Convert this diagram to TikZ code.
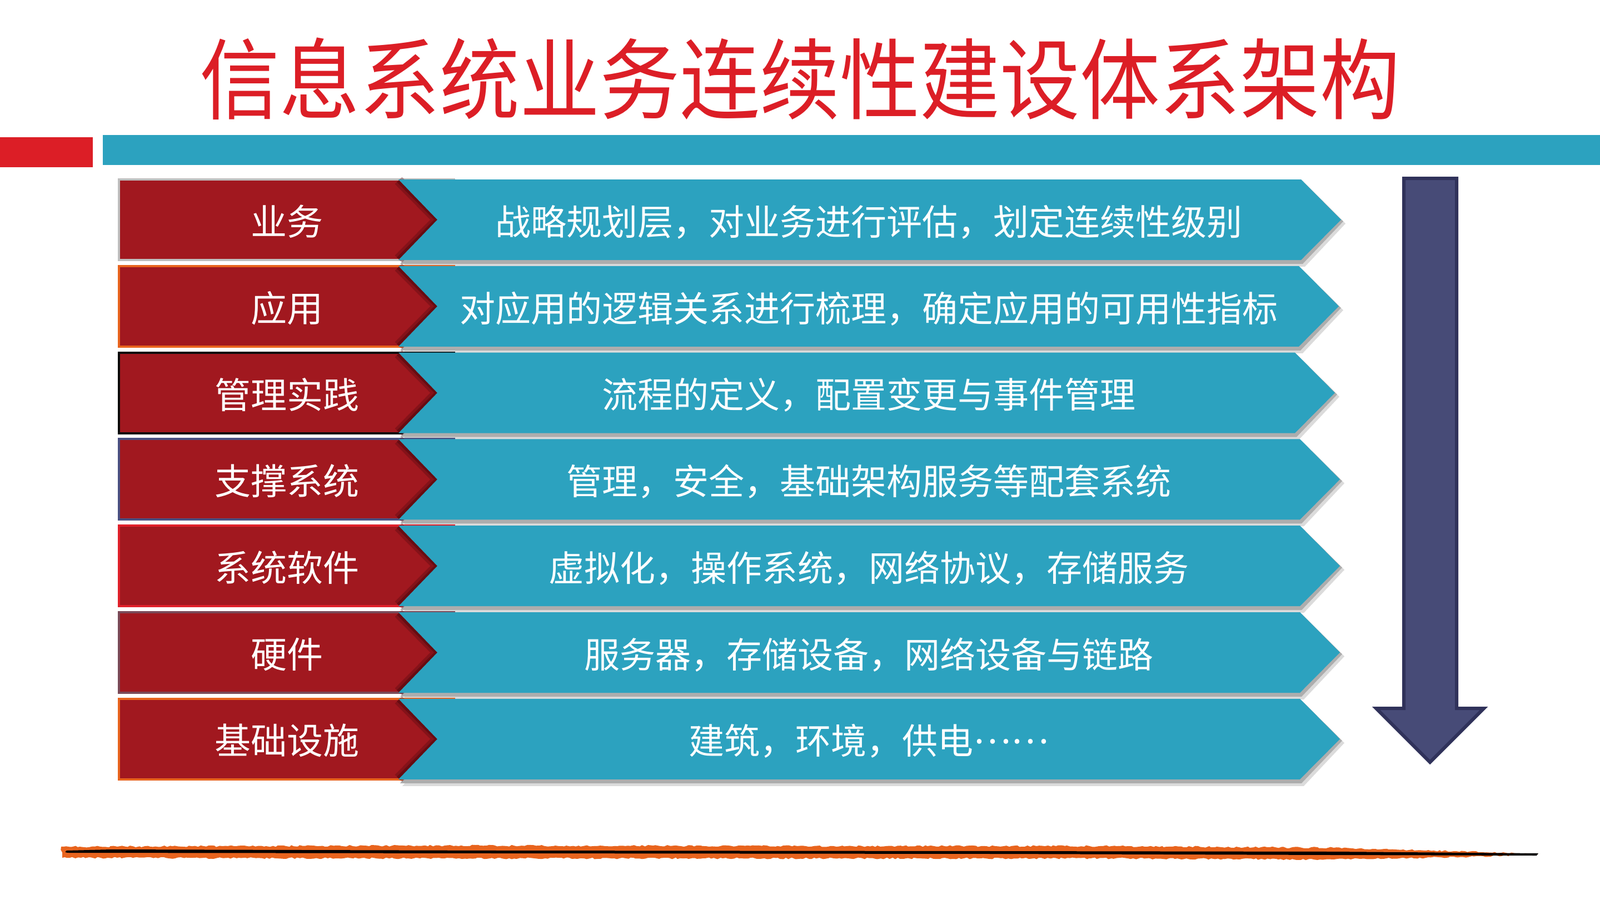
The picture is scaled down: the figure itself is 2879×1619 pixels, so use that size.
\documentclass[tikz,border=0pt]{standalone}
\usepackage{fontspec}
\newfontfamily\cjk{Noto Sans CJK SC}
\usetikzlibrary{decorations.pathmorphing}
\definecolor{titlered}{RGB}{220,30,38}
\definecolor{tealc}{RGB}{44,162,191}
\definecolor{boxred}{RGB}{161,24,31}
\definecolor{notchdark}{RGB}{80,8,14}
\definecolor{bgray}{RGB}{190,190,190}
\definecolor{borange}{RGB}{232,100,30}
\definecolor{bblack}{RGB}{10,10,10}
\definecolor{bblue}{RGB}{74,80,130}
\definecolor{bred}{RGB}{224,32,42}
\definecolor{bmauve}{RGB}{122,74,88}
\definecolor{arrowfill}{RGB}{71,75,119}
\definecolor{arrowdraw}{RGB}{48,50,90}
\definecolor{strokeorange}{RGB}{232,100,30}
\tikzset{
  labtext/.style={text=white,font=\cjk\fontsize{65}{70}\selectfont,inner sep=0pt},
  desctext/.style={text=white,font=\cjk\fontsize{64}{70}\selectfont,inner sep=0pt},
  titletext/.style={text=titlered,font=\cjk\fontsize{144}{150}\selectfont,inner sep=0pt},
}
\newcommand{\midellipsis}{\raisebox{0.3em}{……}}
\begin{document}
\begin{tikzpicture}[x=1pt,y=-1pt]
\useasboundingbox (0,0) rectangle (2879,1619);
\fill[white] (0,0) rectangle (2879,1619);
% title
\node[titletext] (title) at (1439,142) {\scalebox{1}[1.1]{信息系统业务连续性建设体系架构}};
% header bars
\fill[titlered] (0,247) rectangle (167,301);
\fill[tealc] (185,243) rectangle (2879,297);
% rows
\foreach \i/\lab/\desc/\bc/\R in {
  0/业务/战略规划层，对业务进行评估，划定连续性级别/bgray/2413,
  1/应用/对应用的逻辑关系进行梳理，确定应用的可用性指标/borange/2409,
  2/管理实践/流程的定义，配置变更与事件管理/bblack/2402,
  3/支撑系统/管理，安全，基础架构服务等配套系统/bblue/2411,
  4/系统软件/虚拟化，操作系统，网络协议，存储服务/bred/2411,
  5/硬件/服务器，存储设备，网络设备与链路/bmauve/2411,
  6/基础设施/建筑，环境，供电\midellipsis/borange/2411}{
  \pgfmathsetmacro{\t}{323+155.8*\i}
  \pgfmathsetmacro{\b}{\t+145}
  \pgfmathsetmacro{\m}{\t+72.5}
  \pgfmathsetmacro{\Rc}{\R-72}
  % red box
  \filldraw[fill=boxred,draw=\bc,line width=4pt] (214,\t) rectangle (817,\b);
  % teal shadow (soft, two layers)
  \fill[black!14] (717+7,\t+7) -- (\Rc+7,\t+7) -- (\R+8,\m+7) -- (\Rc+7,\b+12) -- (717+7,\b+12) -- (787+7,\m+7) -- cycle;
  \fill[black!32] (717+3,\t+3) -- (\Rc+3,\t+3) -- (\R+4,\m+3) -- (\Rc+3,\b+7) -- (717+3,\b+7) -- (787+3,\m+3) -- cycle;
  % notch shading on red
  \draw[notchdark,opacity=0.35,line width=18pt,line join=miter] (717,\t+2) -- (787,\m) -- (717,\b-2);
  \draw[notchdark,opacity=0.55,line width=8pt,line join=miter] (717,\t+2) -- (787,\m) -- (717,\b-2);
  % teal chevron
  \fill[tealc] (717,\t) -- (\Rc,\t) -- (\R,\m) -- (\Rc,\b) -- (717,\b) -- (787,\m) -- cycle;
  % texts
  \node[labtext] (lab\i) at (516,\m+3) {\lab};
  \node[desctext] (desc\i) at (1563,\m+4) {\desc};
}
% down arrow
\filldraw[fill=arrowfill,draw=arrowdraw,line width=6pt,line join=miter]
  (2526,321) -- (2621,321) -- (2621,1275) -- (2670,1275) -- (2573,1372) -- (2476,1275) -- (2526,1275) -- cycle;
% bottom brush stroke
\fill[strokeorange,decorate,decoration={random steps,segment length=5pt,amplitude=1.5pt}]
  (110,1524) -- (800,1522) -- (1500,1523) -- (2000,1523) -- (2400,1526) -- (2620,1532) -- (2768,1538)
  -- (2620,1543) -- (2400,1547) -- (2000,1545) -- (1500,1545) -- (800,1545) -- (112,1544) -- cycle;
\fill[black] (120,1531) .. controls (115,1534) and (118,1535) .. (125,1535)
  -- (900,1536) -- (1800,1537) -- (2400,1539) -- (2765,1540) -- (2768,1536)
  -- (2400,1533) -- (1800,1532) -- (900,1531) -- (200,1529) -- cycle;
\end{tikzpicture}
\end{document}
